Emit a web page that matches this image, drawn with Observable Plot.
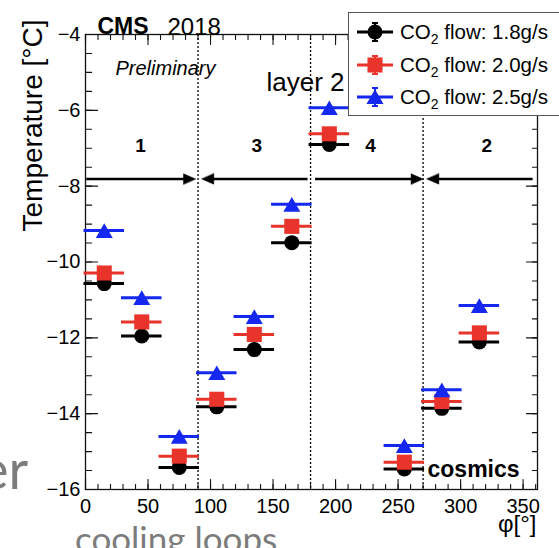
<!DOCTYPE html>
<html>
<head>
<meta charset="utf-8">
<script src="https://cdn.jsdelivr.net/npm/d3@7"></script>
<script src="https://cdn.jsdelivr.net/npm/@observablehq/plot@0.6"></script>
<style>
  html, body { margin: 0; padding: 0; background: #fff; overflow: hidden; }
  #wrap { position: relative; width: 559px; height: 548px; overflow: hidden;
          font-family: "Liberation Sans", Arial, sans-serif; }
  .slide { position: absolute; font-family: Lato, "Open Sans", sans-serif; color: #7c7c7c;
           white-space: nowrap; line-height: 1; }
  #chart { position: absolute; left: 0; top: 0; }
  #legend { position: absolute; left: 348px; top: 12px; width: 240px; height: 104px;
            border: 1px solid #555; background: #fff; box-sizing: border-box; }
  .row { position: absolute; left: 0; height: 32px; display: flex; align-items: center; }
  .row svg { margin-left: 7px; }
  .row span { font-size: 20.5px; margin-left: 6px; color: #000; white-space: nowrap; }
  .row sub { font-size: 14px; vertical-align: -5px; line-height: 0; }
</style>
</head>
<body>
<div id="wrap">
  <div class="slide" style="left:-20px; top:442px; font-size:54px;">er</div>
  <div class="slide" style="left:75px; top:521px; font-size:35px;">cooling loops</div>
  <div id="chart"></div>
  <div id="legend"></div>
</div>
<script>
// Azimuthal position of each measured sector (degrees) and its half width
const phi = [15, 45, 75, 105, 135, 165, 195, 255, 285, 315];
const halfWidth = 15;

// Mean module temperature (°C) per sector for each CO2 flow
const temp18 = [-10.57, -11.95, -15.42, -13.82, -12.31, -9.49, -6.90, -15.46, -13.86, -12.11];
const temp20 = [-10.29, -11.58, -15.12, -13.62, -11.91, -9.06, -6.62, -15.28, -13.68, -11.87];
const temp25 = [-9.17, -10.94, -14.60, -12.92, -11.44, -8.48, -5.93, -14.84, -13.37, -11.15];

const flows = ["1.8", "2.0", "2.5"];
const colors = ["#000000", "#e8342a", "#1428f0"];
const symbols = ["circle", "square", "triangle"];
const markerR = [7.5, 8.5, 6.3];

// Cooling loop boundaries, loop numbers and the span of each loop arrow
const boundaries = [90, 180, 270];
const loopNames = ["1", "3", "4", "2"];
const loopCenters = [44, 137, 228, 321];
const loopLevel = -6.93;
const arrowFrom = [1, 178, 184, 358];
const arrowTo = [88, 93, 270, 273];
const arrowLevel = -7.81;

// Axis ticks
const xMajor = [0, 50, 100, 150, 200, 250, 300, 350];
const xMinor = d3.range(0, 361, 10);
const yMajor = [-16, -14, -12, -10, -8, -6, -4];
const yMinor = d3.range(-16, -3.99, 0.5);

const series = [temp18, temp20, temp25].map((temps, s) =>
  phi.map((p, i) => ({phi: p, t: temps[i], s})));

const arrows = arrowFrom.map((f, i) => ({
  lo: Math.min(f, arrowTo[i]), hi: Math.max(f, arrowTo[i]),
  tip: arrowTo[i], right: arrowTo[i] > f, y: arrowLevel
}));
const loops = loopNames.map((n, i) => ({name: n, phi: loopCenters[i], y: loopLevel}));

// inward-pointing tick marks on all four sides of the frame
const tickShape = {draw(ctx, l) { ctx.moveTo(0, 0); ctx.lineTo(0, -l); }};
function frameTicks(values, ch, anchor, rotate, len) {
  return Plot.vector(values, {[ch]: d => d, frameAnchor: anchor, rotate, length: len,
    anchor: "start", shape: tickShape, stroke: "#111", strokeWidth: 1.1});
}
// filled arrow head with its tip at the anchor point
const headShape = {draw(ctx) { ctx.moveTo(0, 0); ctx.lineTo(-5.2, 12); ctx.lineTo(5.2, 12); ctx.closePath(); }};

const marks = [
  frameTicks(yMajor, "y", "left", 90, 12),
  frameTicks(yMinor, "y", "left", 90, 6),
  frameTicks(yMajor, "y", "right", -90, 11),
  frameTicks(yMinor, "y", "right", -90, 5),
  frameTicks(xMajor, "x", "bottom", 0, 10),
  frameTicks(xMinor, "x", "bottom", 0, 5),
  frameTicks(xMajor, "x", "top", 180, 10),
  frameTicks(xMinor, "x", "top", 180, 5),
  Plot.axisY({ticks: yMajor, tickSize: 0, tickPadding: 5, label: null, fontSize: 20}),
  Plot.axisX({ticks: xMajor, tickSize: 0, tickPadding: 9, label: null, fontSize: 20}),
  Plot.frame({stroke: "#111", strokeWidth: 1.3}),
  Plot.ruleX(boundaries, {stroke: "#000", strokeWidth: 1.3, strokeDasharray: "2,2"}),
  // loop arrows: shaft plus filled head
  Plot.ruleY(arrows.filter(a => a.right), {y: "y", x1: "lo", x2: "hi", insetRight: 8,
    stroke: "#000", strokeWidth: 2.6}),
  Plot.ruleY(arrows.filter(a => !a.right), {y: "y", x1: "lo", x2: "hi", insetLeft: 8,
    stroke: "#000", strokeWidth: 2.6}),
  Plot.vector(arrows, {x: "tip", y: "y", length: 12, anchor: "start", shape: headShape,
    rotate: a => a.right ? 90 : -90, fill: "#000", stroke: "#000", strokeWidth: 0.5}),
  Plot.text(loops, {x: "phi", y: "y", text: "name", fontSize: 19, fontWeight: "bold"}),
  // per-flow horizontal bars and markers
  ...series.flatMap((rows, s) => [
    Plot.ruleY(rows, {y: "t", x1: d => d.phi - halfWidth, x2: d => d.phi + halfWidth,
      stroke: colors[s], strokeWidth: 3, strokeLinecap: "square"}),
    Plot.dot(rows, {x: "phi", y: "t", symbol: symbols[s], r: markerR[s], fill: colors[s],
      dy: symbols[s] === "triangle" ? 2.5 : 0})
  ]),
  // annotations
  Plot.text(["Preliminary"], {frameAnchor: "top-left", dx: 30, dy: 26, textAnchor: "start",
    fontSize: 20, fontStyle: "italic"}),
  Plot.text(["layer 2"], {frameAnchor: "top-left", dx: 181, dy: 38, textAnchor: "start",
    fontSize: 26}),
  Plot.text(["cosmics"], {frameAnchor: "top-left", dx: 342, dy: 426, textAnchor: "start",
    fontSize: 23, fontWeight: "bold"}),
  Plot.text(["CMS"], {frameAnchor: "top-left", dx: 12, dy: -17, textAnchor: "start",
    fontSize: 23, fontWeight: "bold"}),
  Plot.text(["2018"], {frameAnchor: "top-left", dx: 82, dy: -17, textAnchor: "start",
    fontSize: 24}),
  Plot.text(["Temperature [°C]"], {frameAnchor: "top-left", dx: -63, dy: -15, rotate: -90,
    textAnchor: "end", fontSize: 28}),
  Plot.text(["φ[°]"], {frameAnchor: "bottom-right", dx: -1, dy: 42, textAnchor: "end",
    fontSize: 24})
];

const chart = Plot.plot({
  width: 559,
  height: 548,
  marginLeft: 85,
  marginRight: 22,
  marginTop: 34,
  marginBottom: 59,
  x: {domain: [0, 361.5]},
  y: {domain: [-16, -4]},
  style: {background: "transparent", fontFamily: "'Liberation Sans', Arial, sans-serif",
          color: "#000", overflow: "visible"},
  marks
});
document.getElementById("chart").appendChild(chart);

// legend: one row per CO2 flow
const legend = d3.select("#legend");
flows.forEach((f, s) => {
  const row = legend.append("div").attr("class", "row").style("top", `${3 + s * 32.5}px`);
  const svg = row.append("svg").attr("width", 38).attr("height", 30);
  const g = svg.append("g").attr("stroke", colors[s]).attr("fill", colors[s]);
  g.append("line").attr("x1", 1).attr("x2", 37).attr("y1", 15).attr("y2", 15).attr("stroke-width", 3);
  g.append("line").attr("x1", 19).attr("x2", 19).attr("y1", 6).attr("y2", 24).attr("stroke-width", 2);
  g.append("line").attr("x1", 16).attr("x2", 22).attr("y1", 6).attr("y2", 6).attr("stroke-width", 2);
  g.append("line").attr("x1", 16).attr("x2", 22).attr("y1", 24).attr("y2", 24).attr("stroke-width", 2);
  const sym = {circle: d3.symbolCircle, square: d3.symbolSquare, triangle: d3.symbolTriangle}[symbols[s]];
  g.append("path").attr("stroke", "none")
    .attr("transform", `translate(19,${symbols[s] === "triangle" ? 17 : 15})`)
    .attr("d", d3.symbol(sym, Math.PI * markerR[s] * markerR[s])());
  row.append("span").html(`CO<sub>2</sub> flow: ${f}g/s`);
});
</script>
</body>
</html>
